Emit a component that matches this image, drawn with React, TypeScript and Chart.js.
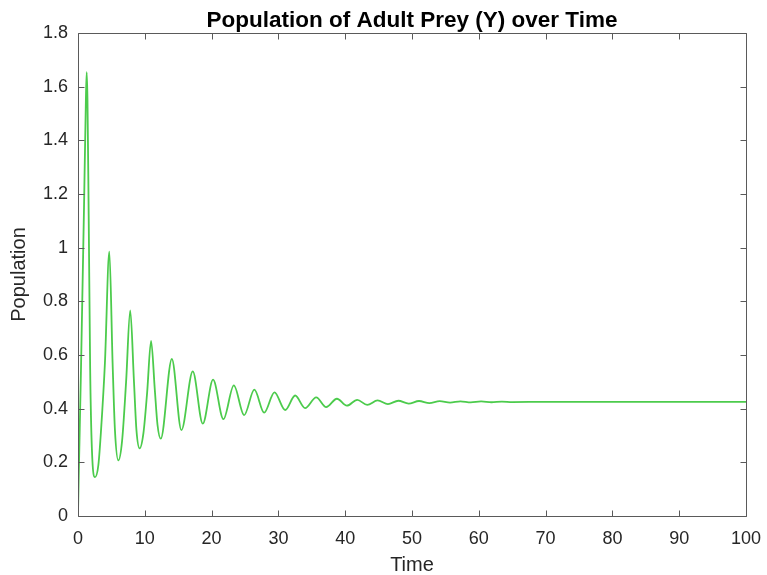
import React, { useEffect, useRef } from "react";
import { Chart, registerables } from "chart.js";

Chart.register(...registerables);

const TITLE = "Population of Adult Prey (Y) over Time";
const X_LABEL = "Time";
const Y_LABEL = "Population";

const xTicks = [0, 10, 20, 30, 40, 50, 60, 70, 80, 90, 100];
const yTicks = [0, 0.2, 0.4, 0.6, 0.8, 1, 1.2, 1.4, 1.6, 1.8];
const yTickLabels = ["0", "0.2", "0.4", "0.6", "0.8", "1", "1.2", "1.4", "1.6", "1.8"];

// Time samples (peaks, troughs and a few flank points)
const time = [
  0, 0.12, 0.45, 0.9, 1.18, 1.3, 1.42, 1.6, 1.82, 2.08, 2.55,
  3.05, 3.45, 4.03, 4.69, 5.18, 5.53, 6.04,
  6.6, 7.2, 7.82, 8.38, 8.75, 9.23,
  9.8, 10.35, 10.94, 11.5, 11.9, 12.39,
  14.05, 15.48, 17.18, 18.68, 20.22, 21.77, 23.33, 24.87,
  26.4, 27.87, 29.41, 31.01, 32.51, 34.0, 35.66, 37.15, 38.76, 40.25,
  41.8, 43.3, 44.85, 46.4, 47.95, 49.5, 51.05, 52.6, 54.15, 55.7,
  57.25, 58.8, 60.35, 61.9, 63.45, 65.0, 70, 80, 90, 100,
];

const population = [
  0.01, 0.16, 0.55, 1.15, 1.55, 1.654, 1.55, 1.12, 0.55, 0.25, 0.145,
  0.19, 0.32, 0.57, 0.985, 0.57, 0.32, 0.207,
  0.28, 0.5, 0.766, 0.5, 0.32, 0.252,
  0.31, 0.46, 0.653, 0.47, 0.34, 0.288,
  0.585, 0.32, 0.539, 0.344, 0.508, 0.361, 0.487, 0.376,
  0.471, 0.385, 0.461, 0.395, 0.449, 0.402, 0.442, 0.406, 0.437, 0.411,
  0.433, 0.414, 0.431, 0.417, 0.4295, 0.419, 0.4285, 0.421, 0.428, 0.4225,
  0.4275, 0.4235, 0.427, 0.424, 0.4265, 0.4245, 0.4255, 0.4255, 0.4255, 0.4255,
];

const FONT = "'Liberation Sans', Arial, Helvetica, sans-serif";
const AXIS_COLOR = "#5a5a5a";
const TEXT_COLOR = "#262626";
const LINE_COLOR = "#4ccb4c";

const framePlugin = {
  id: "matlabFrame",
  afterDraw(chart: any) {
    const ctx = chart.ctx as CanvasRenderingContext2D;
    const { left, right, top, bottom } = chart.chartArea;
    const xs = chart.scales.x;
    const ys = chart.scales.y;
    ctx.save();
    ctx.strokeStyle = AXIS_COLOR;
    ctx.lineWidth = 1;
    const L = Math.round(left) + 0.5;
    const R = Math.round(right) + 0.5;
    const T = Math.round(top) + 0.5;
    const B = Math.round(bottom) + 0.5;
    ctx.beginPath();
    ctx.rect(L, T, R - L, B - T);
    const tl = 6;
    xTicks.forEach((v) => {
      const px = Math.round(xs.getPixelForValue(v)) + 0.5;
      ctx.moveTo(px, B);
      ctx.lineTo(px, B - tl);
      ctx.moveTo(px, T);
      ctx.lineTo(px, T + tl);
    });
    yTicks.forEach((v) => {
      const py = Math.round(ys.getPixelForValue(v)) + 0.5;
      ctx.moveTo(L, py);
      ctx.lineTo(L + tl, py);
      ctx.moveTo(R, py);
      ctx.lineTo(R - tl, py);
    });
    ctx.stroke();

    const cx = (left + right) / 2;
    ctx.fillStyle = "#000";
    ctx.textAlign = "center";
    ctx.textBaseline = "alphabetic";
    ctx.font = `bold 22.5px ${FONT}`;
    ctx.fillText(TITLE, cx, 27);

    ctx.fillStyle = TEXT_COLOR;
    ctx.font = `20px ${FONT}`;
    ctx.fillText(X_LABEL, cx, 571);

    ctx.save();
    ctx.translate(25, (top + bottom) / 2);
    ctx.rotate(-Math.PI / 2);
    ctx.font = `20px ${FONT}`;
    ctx.fillText(Y_LABEL, 0, 0);
    ctx.restore();
    ctx.restore();
  },
};

export default function App() {
  const ref = useRef<HTMLCanvasElement | null>(null);

  useEffect(() => {
    document.body.style.margin = "0";
    const canvas = ref.current;
    if (!canvas) return;
    const points = time.map((t, i) => ({ x: t, y: population[i] }));
    const chart = new Chart(canvas, {
      type: "line",
      data: {
        datasets: [
          {
            data: points,
            borderColor: LINE_COLOR,
            borderWidth: 1.8,
            pointRadius: 0,
            fill: false,
            cubicInterpolationMode: "monotone",
            tension: 0.4,
          },
        ],
      },
      options: {
        animation: false,
        responsive: false,
        devicePixelRatio: 1,
        layout: { padding: { top: 33, right: 21, left: 0, bottom: 0 } },
        plugins: {
          legend: { display: false },
          tooltip: { enabled: false },
          title: { display: false },
        },
        scales: {
          x: {
            type: "linear",
            min: 0,
            max: 100,
            grid: { display: false, drawTicks: false },
            border: { display: false },
            ticks: {
              color: TEXT_COLOR,
              font: { family: FONT, size: 18 },
              padding: 12,
              maxRotation: 0,
              autoSkip: false,
            },
            afterBuildTicks: (scale: any) => {
              scale.ticks = xTicks.map((v) => ({ value: v }));
            },
            afterFit: (scale: any) => {
              scale.height = 59;
              scale.paddingLeft = 0;
              scale.paddingRight = 0;
            },
          },
          y: {
            type: "linear",
            min: 0,
            max: 1.8,
            grid: { display: false, drawTicks: false },
            border: { display: false },
            ticks: {
              color: TEXT_COLOR,
              font: { family: FONT, size: 18 },
              padding: 10,
              autoSkip: false,
              callback: (v: any) => {
                const i = yTicks.findIndex((t) => Math.abs(t - Number(v)) < 1e-9);
                return i >= 0 ? yTickLabels[i] : String(v);
              },
            },
            afterBuildTicks: (scale: any) => {
              scale.ticks = yTicks.map((v) => ({ value: v }));
            },
            afterFit: (scale: any) => {
              scale.width = 78;
              scale.paddingTop = 0;
              scale.paddingBottom = 0;
            },
          },
        },
      },
      plugins: [framePlugin],
    });
    return () => chart.destroy();
  }, []);

  return (
    <div style={{ width: 767, height: 575, background: "#fff" }}>
      <canvas ref={ref} width={767} height={575} style={{ display: "block" }} />
    </div>
  );
}
